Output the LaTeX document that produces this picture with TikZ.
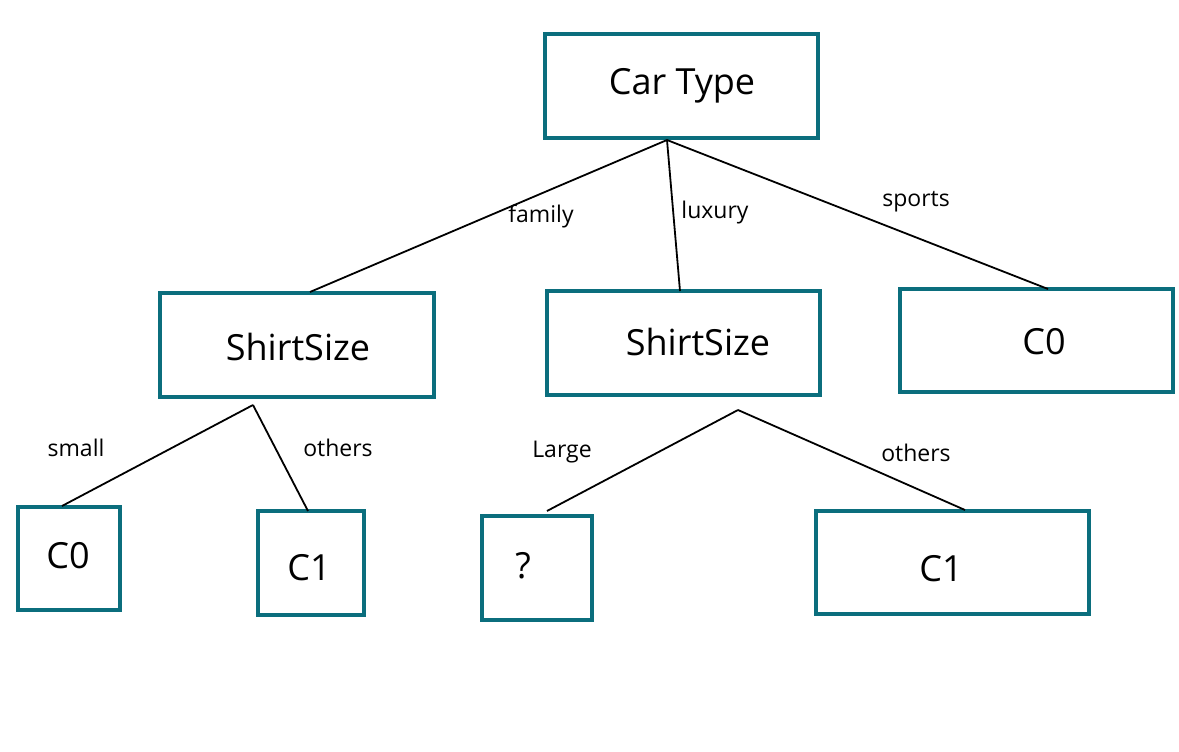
\documentclass[tikz,border=0pt]{standalone}
\usepackage{fontspec}
\setmainfont{Open Sans}
\definecolor{teal}{HTML}{0B6E7D}
\tikzset{
  box/.style={draw=teal, line width=3.6pt, fill=white, inner sep=0pt},
  big/.style={font=\fontsize{36}{40}\selectfont, inner sep=0pt},
  lbl/.style={font=\fontsize{23}{26}\selectfont, inner sep=0pt},
  edge/.style={line width=1.8pt, black}
}
\begin{document}
\begin{tikzpicture}[x=1pt,y=-1pt]
\useasboundingbox[fill=white] (0,0) rectangle (1179,752);
% boxes
\node[box, minimum width=273pt, minimum height=104pt] (ct) at (681.5,86) {};
\node[box, minimum width=274pt, minimum height=104pt] (s1) at (297,345) {};
\node[box, minimum width=273pt, minimum height=104pt] (s2) at (683.5,343) {};
\node[box, minimum width=273pt, minimum height=103pt] (c0r) at (1036.5,340.5) {};
\node[box, minimum width=102pt, minimum height=103pt] (c0l) at (69,558.5) {};
\node[box, minimum width=106pt, minimum height=104pt] (c1l) at (311,563) {};
\node[box, minimum width=110pt, minimum height=104pt] (q) at (537,568) {};
\node[box, minimum width=273pt, minimum height=103pt] (c1r) at (952.5,562.5) {};
% texts
\node[big] (tct) at (682,86) {Car Type};
\node[big] (ts1) at (298,347) {ShirtSize};
\node[big] (ts2) at (698,342) {ShirtSize};
\node[big] (tc0r) at (1044,342) {C0};
\node[big] (tc0l) at (68,556) {C0};
\node[big] (tc1l) at (309,568) {C1};
\node[big] (tq) at (523,566) {?};
\node[big] (tc1r) at (941,569) {C1};
% connector end points
\coordinate (a0) at (667,140);
\coordinate (e1) at (310,292);
\coordinate (e2) at (680,291);
\coordinate (e3) at (1048,289);
\coordinate (a1) at (253,405);
\coordinate (e4) at (62,506);
\coordinate (e5) at (308,511);
\coordinate (a2) at (738,410);
\coordinate (e6) at (547,511);
\coordinate (e7) at (965,510);
% connectors
\draw[edge] (a0) -- (e1);
\draw[edge] (a0) -- (e2);
\draw[edge] (a0) -- (e3);
\draw[edge] (a1) -- (e4);
\draw[edge] (a1) -- (e5);
\draw[edge] (a2) -- (e6);
\draw[edge] (a2) -- (e7);
% edge labels
\node[lbl] (lf) at (541,216) {family};
\node[lbl] (ll) at (715,213) {luxury};
\node[lbl] (ls) at (916,202) {sports};
\node[lbl] (lsm) at (76,448) {small};
\node[lbl] (lo1) at (338,448) {others};
\node[lbl] (lL) at (562,452) {Large};
\node[lbl] (lo2) at (916,453) {others};
\end{tikzpicture}
\end{document}
